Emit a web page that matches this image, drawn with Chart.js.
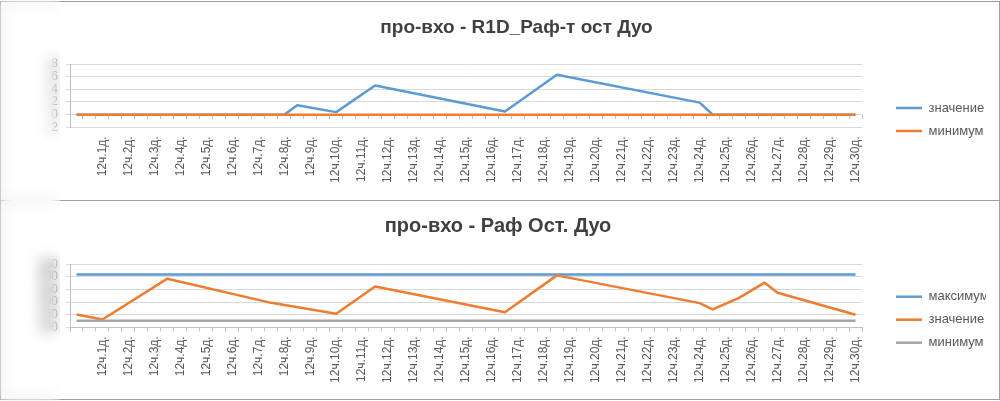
<!DOCTYPE html>
<html>
<head>
<meta charset="utf-8">
<script src="https://cdn.jsdelivr.net/npm/chart.js@4.4.1/dist/chart.umd.min.js"></script>
<style>
  html, body { margin: 0; padding: 0; background: #fff; }
  #page { position: relative; width: 1000px; height: 401px; overflow: hidden; background: #fff; }
  .frame { position: absolute; left: 0; width: 1000px; border: 1px solid #a0a0a0; box-sizing: border-box; }
  #frameTop { top: 1px; height: 200px; }
  #frameBottom { top: 200px; height: 200px; }
  canvas { position: absolute; }
  #chartTop { left: 34px; top: 2px; }
  #chartBottom { left: 0px; top: 201px; }
  /* the left strip (axis values) is blurred in the source */
  #blur { position: absolute; left: 0; top: 0; width: 60px; height: 401px;
          backdrop-filter: blur(7px); -webkit-backdrop-filter: blur(7px); }
</style>
</head>
<body>
<div id="page">
  <div class="frame" id="frameTop"></div>
  <div class="frame" id="frameBottom"></div>
  <canvas id="chartTop" width="964" height="197"></canvas>
  <canvas id="chartBottom" width="998" height="197"></canvas>
  <div id="blur"></div>
</div>
<script>
// category labels: only every second point carries a label
const dayLabels = ['12ч.1д.', '12ч.2д.', '12ч.3д.', '12ч.4д.', '12ч.5д.', '12ч.6д.', '12ч.7д.', '12ч.8д.', '12ч.9д.', '12ч.10д.',
    '12ч.11д.', '12ч.12д.', '12ч.13д.', '12ч.14д.', '12ч.15д.', '12ч.16д.', '12ч.17д.', '12ч.18д.', '12ч.19д.', '12ч.20д.',
    '12ч.21д.', '12ч.22д.', '12ч.23д.', '12ч.24д.', '12ч.25д.', '12ч.26д.', '12ч.27д.', '12ч.28д.', '12ч.29д.', '12ч.30д.'];
const categories = [''];
dayLabels.forEach(function (l) { categories.push('', l); });

// chart 1: про-вхо - R1D_Раф-т ост Дуо
const r1dValue = [0, 0, 0, 0, 0, 0, 0, 0, 0, 0, 0, 0, 0, 0, 0, 0, 0,
    0.15, null, null, 0.04, null, null, 0.46,
    null, null, null, null, null, null, null, null, null,
    0.05, null, null, null, 0.63,
    null, null, null, null, null, null, null, null, null, null,
    0.19, 0, 0, 0, 0, 0, 0, 0, 0, 0, 0, 0, 0];
const r1dMinimum = [0, 0, 0, 0, 0, 0, 0, 0, 0, 0, 0, 0, 0, 0, 0, 0, 0, 0, 0, 0,
    0, 0, 0, 0, 0, 0, 0, 0, 0, 0, 0, 0, 0, 0, 0, 0, 0, 0, 0, 0,
    0, 0, 0, 0, 0, 0, 0, 0, 0, 0, 0, 0, 0, 0, 0, 0, 0, 0, 0, 0, 0];

// chart 2: про-вхо - Раф Ост. Дуо
const rafMaximum = [310, 310, 310, 310, 310, 310, 310, 310, 310, 310, 310, 310, 310, 310, 310, 310, 310, 310, 310, 310,
    310, 310, 310, 310, 310, 310, 310, 310, 310, 310, 310, 310, 310, 310, 310, 310, 310, 310, 310, 310,
    310, 310, 310, 310, 310, 310, 310, 310, 310, 310, 310, 310, 310, 310, 310, 310, 310, 310, 310, 310, 310];
const rafValue = [151, null, 131, null, null, null, null, 293,
    null, null, null, null, null, null, null, 197,
    null, null, null, null, 154, null, null, 262,
    null, null, null, null, null, null, null, null, null,
    160, null, null, null, 306,
    null, null, null, null, null, null, null, null, null, null,
    196, 171, null, 216, null, 277, 237, null, null, null, null, null, 150];
const rafMinimum = [126, 126, 126, 126, 126, 126, 126, 126, 126, 126, 126, 126, 126, 126, 126, 126, 126, 126, 126, 126,
    126, 126, 126, 126, 126, 126, 126, 126, 126, 126, 126, 126, 126, 126, 126, 126, 126, 126, 126, 126,
    126, 126, 126, 126, 126, 126, 126, 126, 126, 126, 126, 126, 126, 126, 126, 126, 126, 126, 126, 126, 126];

const BLUE = '#5b9bd5';
const ORANGE = '#ed7d31';
const GRAY = '#a5a5a5';
const TEXT = '#595959';
const FONT = "'Liberation Sans', Arial, sans-serif";

Chart.defaults.font.family = FONT;
Chart.defaults.color = TEXT;

function lineSet(label, data, color, order) {
    return {
        label: label,
        data: data,
        borderColor: color,
        backgroundColor: color,
        borderWidth: 2.5,
        borderJoinStyle: 'round',
        pointRadius: 0,
        tension: 0,
        spanGaps: true,
        order: order
    };
}

function buildOptions(cfg) {
    const scales = {
        x: {
            offset: true,
            grid: {
                display: cfg.bottomTicks,
                drawOnChartArea: false,
                drawTicks: cfg.bottomTicks,
                tickLength: 4,
                offset: true,
                color: '#bfbfbf'
            },
            border: { display: cfg.bottomTicks, color: '#bfbfbf' },
            ticks: {
                autoSkip: false,
                maxRotation: 90,
                minRotation: 90,
                padding: cfg.bottomTicks ? 5 : 9,
                color: TEXT,
                font: { size: 12 }
            },
            afterFit: function (s) { s.height = cfg.xHeight; }
        },
        y: {
            min: cfg.yMin,
            max: cfg.yMax,
            ticks: {
                stepSize: cfg.yStep,
                autoSkip: false,
                padding: 8,
                color: TEXT,
                font: { size: 12 },
                callback: function (v) { return v.toLocaleString('ru-RU'); }
            },
            grid: { color: '#d9d9d9', drawTicks: true, tickLength: 4 },
            border: { display: true, color: '#bfbfbf' },
            afterFit: function (s) { s.width = cfg.yWidth; }
        },
        // empty spacer between plot and legend
        gap: {
            type: 'linear',
            axis: 'y',
            position: 'right',
            display: true,
            grid: { display: false },
            ticks: { display: false },
            border: { display: false },
            afterFit: function (s) { s.width = 24; }
        }
    };
    if (!cfg.bottomTicks) {
        // category axis crosses at zero: tick marks there
        scales.x2 = {
            type: 'category',
            axis: 'x',
            position: { y: 0 },
            offset: true,
            grid: { offset: true, drawOnChartArea: false, drawTicks: true, tickLength: 4, color: '#bfbfbf' },
            ticks: { display: false },
            border: { display: false },
            afterFit: function (s) { s.height = 0; }
        };
    }
    return {
        responsive: false,
        animation: false,
        layout: { padding: { top: 0, bottom: 0, left: cfg.padLeft, right: cfg.padRight } },
        plugins: {
            title: {
                display: true,
                text: cfg.title,
                color: '#404040',
                font: { size: cfg.titleSize, weight: 'bold' },
                padding: { top: cfg.titleTop, bottom: cfg.titleBottom }
            },
            legend: {
                position: 'right',
                maxWidth: 100,
                title: { display: true, text: '', font: { size: 12, lineHeight: 1 }, padding: { top: cfg.legendShift, bottom: 0 } },
                labels: {
                    usePointStyle: true,
                    pointStyle: 'line',
                    pointStyleWidth: 26,
                    padding: 10,
                    color: TEXT,
                    font: { size: 13 },
                    sort: function (a, b) { return a.datasetIndex - b.datasetIndex; }
                }
            },
            tooltip: { enabled: false }
        },
        scales: scales
    };
}

new Chart(document.getElementById('chartTop'), {
    type: 'line',
    data: {
        labels: categories,
        datasets: [
            lineSet('значение', r1dValue, BLUE, 2),
            lineSet('минимум', r1dMinimum, ORANGE, 1)
        ]
    },
    options: buildOptions({
        title: 'про-вхо - R1D_Раф-т ост Дуо',
        titleSize: 19, titleTop: 14.6, titleBottom: 24.6,
        yMin: -0.2, yMax: 0.8, yStep: 0.2,
        yWidth: 23, xHeight: 71.7, padLeft: 13, padRight: 12,
        legendShift: 26, bottomTicks: false
    })
});

new Chart(document.getElementById('chartBottom'), {
    type: 'line',
    data: {
        labels: categories,
        datasets: [
            lineSet('максимум', rafMaximum, BLUE, 3),
            lineSet('значение', rafValue, ORANGE, 2),
            lineSet('минимум', rafMinimum, GRAY, 1)
        ]
    },
    options: buildOptions({
        title: 'про-вхо - Раф Ост. Дуо',
        titleSize: 20, titleTop: 13, titleBottom: 26.3,
        yMin: 100, yMax: 350, yStep: 50,
        yWidth: 60, xHeight: 70.7, padLeft: 10, padRight: 12,
        legendShift: 28.4, bottomTicks: true
    })
});
</script>
</body>
</html>
